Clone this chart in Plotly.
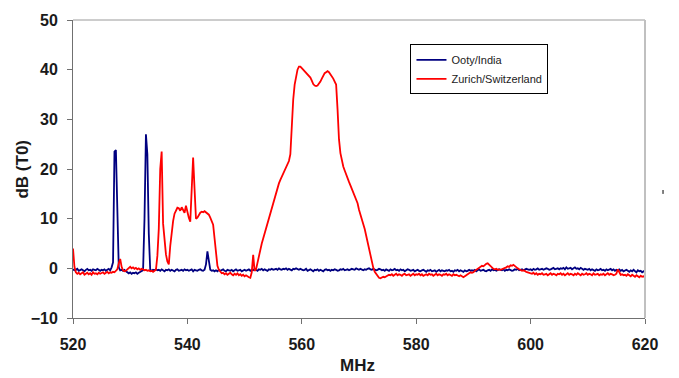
import plotly.graph_objects as go

# Frequency sample grid (MHz), 0.25 MHz steps from 520 to 620
mhz = [520 + 0.25 * i for i in range(401)]

# Ooty/India (dB T0)
ooty_db = (
    [-0.2, -0.4, -0.3, -0.1, -0.5, -0.3, -0.2, -0.4, -0.6, -0.3, -0.1, -0.4, -0.3, -0.5, -0.2, -0.3, -0.4, -0.1, -0.3, -0.5]
    + [-0.3, -0.4, -0.2, -0.5, -0.3, -0.1, -0.4, 0.2, 1.2, 23.5, 23.8, 12.0, 0.2, -0.4, -0.3, -0.5, -0.3, -0.6, -0.9, -1.0]
    + [-0.8, -1.1, -0.9, -1.0, -0.8, -1.1, -0.9, -0.7, -0.6, -0.4, 10.0, 27.0, 23.0, 7.0, -0.3, -0.5, -0.3, -0.4, -0.2, -0.4]
    + [-0.3, -0.5, -0.2, -0.4, -0.6, -0.3, -0.4, -0.2, -0.5, -0.3, -0.4, -0.6, -0.3, -0.2, -0.5, -0.4, -0.3, -0.5, -0.2, -0.4]
    + [-0.3, -0.5, -0.4, -0.2, -0.6, -0.3, -0.4, -0.5, -0.3, -0.2, -0.4, -0.5, -0.3, 0.8, 3.4, 1.0, -0.3, -0.5, -0.4, -0.6]
    + [-0.4, -0.6, -0.3, -0.5, -0.4, -0.2, -0.5, -0.6, -0.3, -0.4, -0.5, -0.3, -0.6, -0.4, -0.2, -0.5, -0.4, -0.3, -0.6, -0.4]
    + [-0.3, -0.5, -0.4, -0.2, -0.5, -0.3, -0.4, -0.1, -0.3, -0.5, -0.2, -0.3, -0.1, -0.4, -0.2, -0.3, -0.5, -0.2, -0.3, -0.1]
    + [-0.3, -0.2, -0.1, -0.3, 0.0, -0.2, -0.3, -0.1, -0.2, 0.0, -0.3, -0.1, -0.2, -0.4, -0.1, -0.2, 0.0, -0.2, -0.3, -0.1]
    + [-0.2, -0.4, -0.3, -0.1, -0.5, -0.3, -0.2, -0.4, -0.6, -0.3, -0.4, -0.2, -0.5, -0.3, -0.4, -0.6, -0.3, -0.2, -0.4, -0.3]
    + [-0.5, -0.3, -0.4, -0.2, -0.3, -0.5, -0.4, -0.2, -0.3, -0.1, -0.4, -0.3, -0.2, -0.4, -0.3, -0.1, -0.2, -0.3, 0.0, -0.2]
    + [-0.3, -0.1, -0.2, -0.4, -0.2, -0.3, -0.1, 0.0, -0.2, -0.3, -0.1, -0.2, -0.4, -0.3, -0.1, -0.2, -0.4, -0.3, -0.5, -0.2]
    + [-0.3, -0.5, -0.2, -0.4, -0.3, -0.1, -0.4, -0.3, -0.5, -0.2, -0.4, -0.3, -0.6, -0.4, -0.2, -0.3, -0.5, -0.4, -0.3, -0.6]
    + [-0.4, -0.3, -0.5, -0.6, -0.4, -0.3, -0.5, -0.7, -0.4, -0.5, -0.3, -0.6, -0.5, -0.4, -0.7, -0.5, -0.3, -0.6, -0.4, -0.5]
    + [-0.6, -0.4, -0.5, -0.3, -0.6, -0.5, -0.7, -0.4, -0.5, -0.3, -0.6, -0.4, -0.5, -0.7, -0.4, -0.6, -0.5, -0.3, -0.5, -0.4]
    + [-0.5, -0.3, -0.6, -0.4, -0.2, -0.5, -0.4, -0.3, -0.5, -0.6, -0.4, -0.3, -0.5, -0.2, -0.4, -0.3, -0.5, -0.4, -0.2, -0.3]
    + [-0.4, -0.2, -0.5, -0.3, -0.4, -0.2, -0.3, -0.5, -0.4, -0.2, -0.3, -0.1, -0.4, -0.3, -0.2, -0.4, -0.3, -0.1, -0.2, -0.3]
    + [-0.2, -0.4, -0.1, -0.3, -0.2, 0.0, -0.3, -0.2, -0.1, -0.3, -0.2, 0.0, -0.1, -0.3, -0.2, -0.1, 0.1, -0.2, -0.1, 0.0]
    + [-0.2, 0.0, -0.1, 0.1, -0.2, 0.2, -0.1, 0.0, 0.1, -0.2, 0.0, 0.2, -0.1, 0.0, -0.2, 0.1, -0.1, -0.3, -0.1, -0.2]
    + [-0.3, -0.1, -0.4, -0.2, -0.3, -0.5, -0.2, -0.4, -0.3, -0.1, -0.4, -0.3, -0.5, -0.2, -0.4, -0.3, -0.1, -0.4, -0.2, -0.5]
    + [-0.3, -0.4, -0.2, -0.5, -0.3, -0.6, -0.4, -0.3, -0.5, -0.7, -0.4, -0.6, -0.3, -0.5, -0.8, -0.4, -0.6, -0.5, -0.8, -0.6]
    + [-0.7]
)

# Zurich/Switzerland (dB T0)
zurich_db = (
    [4.0, 0.3, -0.8, -1.1, -0.9, -1.2, -1.0, -0.8, -1.3, -1.1, -0.9, -1.2, -1.0, -1.3, -0.8, -1.1, -1.0, -1.2, -0.9, -1.1]
    + [-1.0, -0.8, -1.1, -0.9, -0.7, -1.0, -0.8, -0.9, -0.7, -0.8, -0.5, -0.2, 1.0, 1.9, 0.3, -0.4, -0.6, -0.5, -0.2, 0.1]
    + [0.3, 0.0, 0.2, -0.1, 0.1, -0.2, 0.0, -0.3, -0.1, -0.2, -0.4, -0.3, -0.5, -0.4, -0.6, -0.5, -0.7, -0.5, -0.3, 2.5]
    + [8.0, 20.0, 23.5, 9.0, 5.0, 2.8, 1.4, 0.8, 4.5, 7.8, 9.5, 11.0, 11.8, 12.2, 12.1, 11.6, 12.3, 11.7, 11.2, 12.6]
    + [11.0, 10.2, 9.4, 17.0, 22.3, 16.0, 10.0, 10.2, 10.8, 11.2, 11.4, 11.3, 11.5, 11.2, 11.0, 10.8, 10.2, 9.6, 8.8, 6.0]
    + [2.5, 0.5, -0.3, -0.7, -1.0, -0.9, -1.2, -1.0, -1.3, -1.1, -0.9, -1.2, -1.4, -1.1, -1.3, -1.0, -1.4, -1.2, -1.5, -1.3]
    + [-1.6, -1.4, -1.7, -1.8, -1.9, -0.8, 2.7, -0.5, -0.2, 1.2, 2.8, 4.0, 5.0, 6.0, 7.0, 8.2, 9.4, 10.4, 11.3, 12.3]
    + [13.5, 14.4, 15.4, 16.3, 17.1, 17.8, 18.4, 19.0, 19.6, 20.3, 21.0, 21.6, 23.0, 29.5, 34.0, 37.0, 39.0, 40.0, 40.6, 40.6]
    + [40.3, 40.0, 39.8, 39.3, 39.1, 38.8, 38.4, 37.8, 37.1, 36.8, 36.7, 36.8, 37.1, 37.6, 38.2, 38.8, 39.3, 39.5, 39.7, 39.5]
    + [39.1, 38.7, 38.2, 37.6, 37.0, 32.0, 26.0, 23.2, 21.5, 20.5, 19.7, 18.8, 18.0, 17.4, 16.7, 16.0, 15.3, 14.6, 13.9, 13.1]
    + [11.8, 10.9, 9.9, 8.9, 7.9, 6.6, 5.2, 3.8, 2.4, 1.1, 0.1, -0.7, -1.2, -1.6, -1.9, -2.0, -1.9, -1.7, -1.8, -1.6]
    + [-1.5, -1.3, -1.4, -1.2, -1.5, -1.3, -1.1, -1.4, -1.2, -1.3, -1.5, -1.2, -1.1, -1.4, -1.3, -1.2, -1.5, -1.3, -1.1, -1.4]
    + [-1.2, -1.3, -1.1, -1.4, -1.2, -1.5, -1.3, -1.2, -1.4, -1.1, -1.3, -1.2, -1.5, -1.3, -1.1, -1.4, -1.2, -1.3, -1.5, -1.2]
    + [-1.3, -1.1, -1.4, -1.2, -1.3, -1.5, -1.2, -1.4, -1.3, -1.5, -1.6, -1.4, -1.7, -1.8, -1.6, -1.4, -1.1, -1.0, -0.8, -0.9]
    + [-0.8, -0.5, -0.3, -0.1, 0.0, 0.3, 0.5, 0.4, 0.7, 0.9, 1.0, 0.7, 0.6, 0.2, -0.1, -0.2, -0.1, -0.3, -0.2, -0.3]
    + [-0.2, -0.1, 0.0, 0.2, 0.4, 0.3, 0.6, 0.5, 0.7, 0.4, 0.2, 0.0, -0.2, -0.3, -0.5, -0.4, -0.6, -0.7, -0.8, -0.9]
    + [-1.0, -1.1, -0.9, -1.2, -1.0, -1.3, -1.1, -1.2, -1.0, -1.3, -1.2, -1.1, -1.4, -1.2, -1.0, -1.3, -1.1, -1.2, -1.4, -1.1]
    + [-1.2, -1.0, -1.3, -1.1, -1.4, -1.2, -1.0, -1.3, -1.1, -1.2, -1.4, -1.1, -1.3, -1.0, -1.2, -1.4, -1.1, -1.3, -1.2, -1.0]
    + [-1.3, -1.1, -1.2, -1.4, -1.0, -1.3, -1.2, -1.1, -1.4, -1.2, -1.3, -1.1, -1.4, -1.2, -1.0, -1.3, -1.1, -1.2, -1.4, -1.3]
    + [-1.1, -0.2, -0.9, -1.3, -1.2, -1.4, -1.3, -1.5, -1.2, -1.4, -1.6, -1.3, -1.5, -1.7, -1.4, -1.6, -1.8, -1.5, -1.7, -1.6]
    + [-1.8]
)

x_ticks = [520, 540, 560, 580, 600, 620]
y_ticks = [-10, 0, 10, 20, 30, 40, 50]

FONT = "Liberation Sans, Arial, sans-serif"

fig = go.Figure()
fig.add_trace(go.Scatter(x=mhz, y=ooty_db, mode="lines", name="Ooty/India",
                         line=dict(color="#000080", width=1.8)))
fig.add_trace(go.Scatter(x=mhz, y=zurich_db, mode="lines", name="Zurich/Switzerland",
                         line=dict(color="#FF0000", width=1.8)))

axis_common = dict(
    showgrid=False, zeroline=False, showline=True, linecolor="#707070", linewidth=1,
    ticks="outside", ticklen=5, tickcolor="#707070", tickwidth=1,
    tickfont=dict(family=FONT, size=16, color="#1a1a1a", weight="bold"),
)
fig.update_xaxes(range=[520, 620], tickvals=x_ticks, ticklabelstandoff=7, **axis_common)
fig.update_yaxes(range=[-10, 50], tickvals=y_ticks, ticklabelstandoff=6, **axis_common)

fig.update_layout(
    width=679, height=378,
    margin=dict(l=73, r=34, t=13, b=60),
    paper_bgcolor="white", plot_bgcolor="white",
    showlegend=True,
    legend=dict(x=0.59, y=0.918, xanchor="left", yanchor="top",
                bgcolor="white", bordercolor="#000000", borderwidth=1,
                font=dict(family=FONT, size=11, color="#222222"),
                tracegroupgap=0),
    annotations=[
        dict(text="MHz", xref="paper", yref="paper", x=0.498, y=-0.16,
             xanchor="center", yanchor="middle", showarrow=False,
             font=dict(family=FONT, size=17, color="#1a1a1a", weight="bold")),
        dict(text="dB (T0)", xref="paper", yref="paper", x=-0.09, y=0.50,
             xanchor="center", yanchor="middle", showarrow=False, textangle=-90,
             font=dict(family=FONT, size=17, color="#1a1a1a", weight="bold")),
    ],
    shapes=[
        dict(type="line", xref="paper", yref="paper", x0=0, x1=1, y0=1, y1=1,
             line=dict(color="#9a9a9a", width=1)),
        dict(type="line", xref="paper", yref="paper", x0=1, x1=1, y0=0, y1=1,
             line=dict(color="#c0c0c0", width=2)),
        dict(type="line", xref="paper", yref="paper", x0=1.0315, x1=1.0315, y0=0.4164, y1=0.4295,
             line=dict(color="#000000", width=1)),
    ],
)

fig.write_html("out.html")
